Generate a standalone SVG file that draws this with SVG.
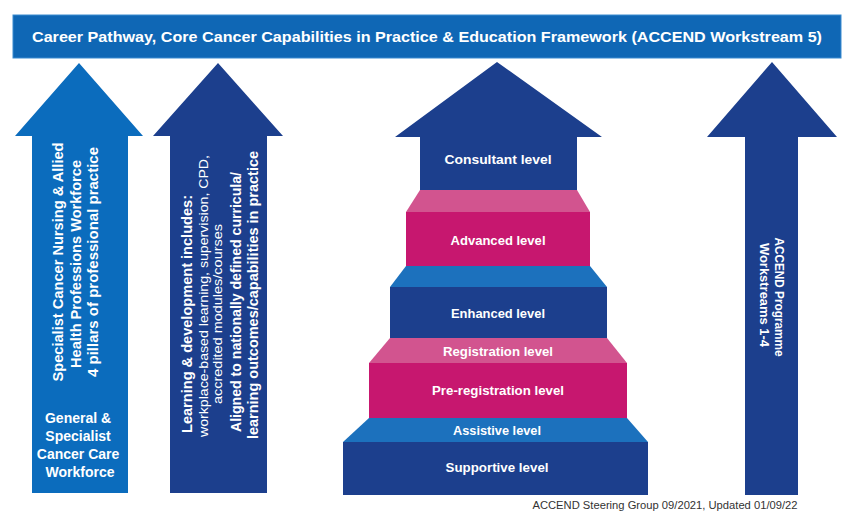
<svg xmlns="http://www.w3.org/2000/svg" width="844" height="513" viewBox="0 0 844 513">
  <style>
    .t { font-family: "Liberation Sans", Arial, sans-serif; fill: #ffffff; }
    .b { font-weight: bold; }
    .c { text-anchor: middle; dominant-baseline: central; }
    .lvl { font-size: 13px; font-weight: bold; }
    .navy { fill: #1c3f8d; }
    .sky { fill: #0b6cbd; }
    .mag { fill: #c7176f; }
    .pinktop { fill: #d2548f; }
    .bluetop { fill: #1c71bd; }
  </style>

  <rect width="844" height="513" fill="#ffffff"/>

  <!-- Title banner -->
  <g id="title">
    <rect x="13" y="15" width="828" height="43" fill="#0f67b5" stroke="#3a8bd0" stroke-width="1"/>
    <text class="t b" x="427" y="42" font-size="15.5" text-anchor="middle" textLength="790" lengthAdjust="spacingAndGlyphs">Career Pathway, Core Cancer Capabilities in Practice &amp; Education Framework (ACCEND Workstream 5)</text>
  </g>

  <!-- Workforce arrow -->
  <g id="workforce-arrow">
    <polygon class="sky" points="79,63 143,136 128,136 128,493 32,493 32,136 15,136"/>
    <text class="t b c" font-size="14" transform="translate(58,262) rotate(-90)" textLength="239" lengthAdjust="spacingAndGlyphs">Specialist Cancer Nursing &amp; Allied</text>
    <text class="t b c" font-size="14" transform="translate(76,264) rotate(-90)" textLength="208" lengthAdjust="spacingAndGlyphs">Health Professions Workforce</text>
    <text class="t b c" font-size="14" transform="translate(93,262) rotate(-90)" textLength="230" lengthAdjust="spacingAndGlyphs">4 pillars of professional practice</text>
    <text class="t b" font-size="14" text-anchor="middle">
      <tspan x="80" y="423">General &amp;</tspan>
      <tspan x="80" y="441">Specialist</tspan>
      <tspan x="80" y="459">Cancer Care</tspan>
      <tspan x="80" y="477">Workforce</tspan>
    </text>
  </g>

  <!-- Learning & development arrow -->
  <g id="learning-arrow">
    <polygon class="navy" points="218,63 283,136 267,136 267,493 170,493 170,136 153,136"/>
    <text class="t b c" font-size="14" transform="translate(187,314) rotate(-90)" textLength="238" lengthAdjust="spacingAndGlyphs">Learning &amp; development includes:</text>
    <text class="t c" font-size="13" transform="translate(203,296) rotate(-90)" textLength="282" lengthAdjust="spacingAndGlyphs">workplace-based learning, supervision, CPD,</text>
    <text class="t c" font-size="12" transform="translate(218,314) rotate(-90)" textLength="180" lengthAdjust="spacingAndGlyphs">accredited modules/courses</text>
    <text class="t b c" font-size="14" transform="translate(236,302) rotate(-90)" textLength="260" lengthAdjust="spacingAndGlyphs">Aligned to nationally defined curricula/</text>
    <text class="t b c" font-size="14" transform="translate(253,295) rotate(-90)" textLength="288" lengthAdjust="spacingAndGlyphs">learning outcomes/capabilities in practice</text>
  </g>

  <!-- Career level staircase -->
  <g id="consultant">
    <polygon class="navy" points="497,62 602,137 577,137 577,190 420,190 420,137 395,137"/>
    <text class="t lvl c" x="498" y="159" textLength="107" lengthAdjust="spacingAndGlyphs">Consultant level</text>
  </g>
  <g id="advanced">
    <polygon class="pinktop" points="420,190 577,190 590,212 406,212"/>
    <rect class="mag" x="406" y="212" width="184" height="54"/>
    <text class="t lvl c" x="498" y="240" textLength="95" lengthAdjust="spacingAndGlyphs">Advanced level</text>
  </g>
  <g id="enhanced">
    <polygon class="bluetop" points="406,266 590,266 607,287 390,287"/>
    <rect class="navy" x="390" y="287" width="217" height="51"/>
    <text class="t lvl c" x="498" y="313" textLength="94" lengthAdjust="spacingAndGlyphs">Enhanced level</text>
  </g>
  <g id="registration">
    <polygon class="pinktop" points="390,338 607,338 627,363 369,363"/>
    <text class="t lvl c" x="498" y="351" textLength="110" lengthAdjust="spacingAndGlyphs">Registration level</text>
  </g>
  <g id="pre-registration">
    <rect class="mag" x="369" y="363" width="258" height="55"/>
    <text class="t lvl c" x="498" y="390" textLength="132" lengthAdjust="spacingAndGlyphs">Pre-registration level</text>
  </g>
  <g id="assistive">
    <polygon class="bluetop" points="369,418 627,418 648,442 343,442"/>
    <text class="t lvl c" x="497" y="430" textLength="88" lengthAdjust="spacingAndGlyphs">Assistive level</text>
  </g>
  <g id="supportive">
    <rect class="navy" x="343" y="442" width="305" height="53"/>
    <text class="t lvl c" x="497" y="467" textLength="103" lengthAdjust="spacingAndGlyphs">Supportive level</text>
  </g>

  <!-- Programme workstreams arrow -->
  <g id="programme-arrow">
    <polygon class="navy" points="772,62 837,137 798,137 798,495 745,495 745,137 707,137"/>
    <text class="t b c" font-size="13" transform="translate(779,297) rotate(90)" textLength="119" lengthAdjust="spacingAndGlyphs">ACCEND Programme</text>
    <text class="t b c" font-size="13" transform="translate(764,295) rotate(90)" textLength="104" lengthAdjust="spacingAndGlyphs">Workstreams 1-4</text>
  </g>

  <!-- Footer note -->
  <g id="footer">
    <text x="665" y="509" font-family="Liberation Sans, Arial, sans-serif" font-size="10" fill="#333333" text-anchor="middle" textLength="265" lengthAdjust="spacingAndGlyphs">ACCEND Steering Group 09/2021, Updated 01/09/22</text>
  </g>
</svg>
